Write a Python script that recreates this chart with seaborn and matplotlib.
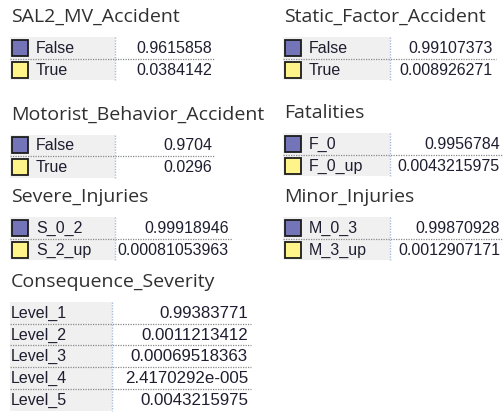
import matplotlib
matplotlib.use('Agg')
import matplotlib.pyplot as plt
import seaborn as sns
from matplotlib.patches import Rectangle


# node names, their states and the probability of every state
sal2_states = ['False', 'True']
sal2_probs = [0.9615858, 0.0384142]

static_states = ['False', 'True']
static_probs = [0.99107373, 0.008926271]

motorist_states = ['False', 'True']
motorist_probs = [0.9704, 0.0296]

fatal_states = ['F_0', 'F_0_up']
fatal_probs = [0.9956784, 0.0043215975]

severe_states = ['S_0_2', 'S_2_up']
severe_probs = [0.99918946, 0.00081053963]

minor_states = ['M_0_3', 'M_3_up']
minor_probs = [0.99870928, 0.0012907171]

severity_states = ['Level_1', 'Level_2', 'Level_3', 'Level_4', 'Level_5']
severity_probs = [0.99383771, 0.0011213412, 0.00069518363, 2.4170292e-005, 0.0043215975]

state_colors = ['#7474b8', '#fff48a']

W, H = 503, 412
ROW = 21.7


def fmt(p):
    s = '{:.8g}'.format(p)
    if 'e-' in s:
        m, e = s.split('e-')
        s = m + 'e-' + e.zfill(3)
    return s


def node_table(ax, name, states, probs, x0, ytitle, sep, right, boxes=True, vsize=11.5):
    ax.text(x0 + 1, ytitle, name, fontsize=14, family='Open Sans', color='#303030',
            va='center', ha='left')
    top = ytitle + 20
    n = len(states)
    ax.add_patch(Rectangle((x0, top), sep - x0, n * ROW, facecolor='#f0f0f0', edgecolor='none'))
    for i, (st, p) in enumerate(zip(states, probs)):
        yc = top + (i + 0.5) * ROW
        if boxes:
            ax.add_patch(Rectangle((x0 + 2.5, yc - 8), 16, 16, facecolor=state_colors[i],
                                   edgecolor='#1c1c1c', linewidth=1.3))
            lx = x0 + 26
        else:
            lx = x0 + 1
        ax.text(lx, yc + 0.5, st, fontsize=11.5, family='Liberation Sans', color='#1e1e30',
                va='center', ha='left')
        ax.text(right - 3, yc + 0.5, fmt(p), fontsize=vsize, family='Liberation Sans',
                color='#1e1e30', va='center', ha='right')
        if i < n - 1:
            ax.plot([x0, right], [top + (i + 1) * ROW] * 2, color='#8a8a8a',
                    linestyle=(0, (1, 1)), linewidth=0.9)
    ax.plot([sep, sep], [top, top + n * ROW], color='#a8bcd8', linestyle=(0, (1, 1)), linewidth=1)


sns.set_style('white')
fig = plt.figure(figsize=(W / 100, H / 100), dpi=100)
ax = fig.add_axes([0, 0, 1, 1])
ax.set_xlim(0, W)
ax.set_ylim(H, 0)
ax.axis('off')

node_table(ax, 'SAL2_MV_Accident', sal2_states, sal2_probs, 10, 17, 115, 215)
node_table(ax, 'Static_Factor_Accident', static_states, static_probs, 283, 17, 390, 496)
node_table(ax, 'Motorist_Behavior_Accident', motorist_states, motorist_probs, 10, 114.5, 115, 215)
node_table(ax, 'Fatalities', fatal_states, fatal_probs, 283, 113, 390, 503)
node_table(ax, 'Severe_Injuries', severe_states, severe_probs, 10, 197, 115, 232)
node_table(ax, 'Minor_Injuries', minor_states, minor_probs, 283, 197, 390, 503)
node_table(ax, 'Consequence_Severity', severity_states, severity_probs, 10, 282, 112, 251,
           boxes=False, vsize=12.2)

fig.savefig('out.png', dpi=100, facecolor='white')
